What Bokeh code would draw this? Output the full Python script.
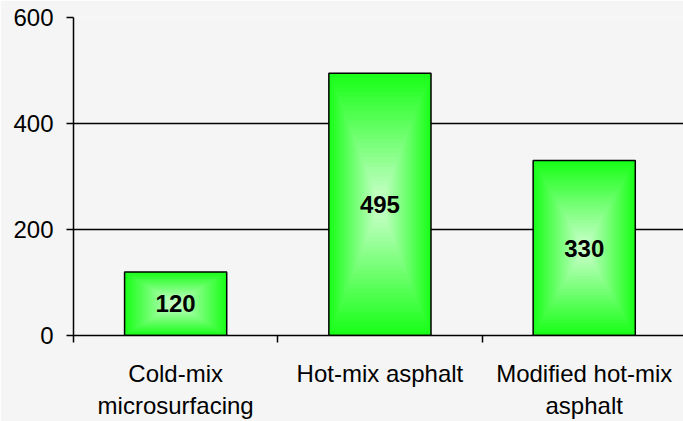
from bokeh.plotting import figure
from bokeh.models import Range1d, FixedTicker
from bokeh.core.properties import value
from bokeh.embed import file_html
from bokeh.resources import INLINE

categories = ["Cold-mix\nmicrosurfacing", "Hot-mix asphalt", "Modified hot-mix\nasphalt"]
values = [120, 495, 330]
y_ticks = [0, 200, 400, 600]

FONT = "Liberation Sans"
BG = "#f5f5f5"

n = len(categories)
centers = [i + 0.5 for i in range(n)]
bar_w = 0.5

p = figure(width=683, height=421, x_range=Range1d(0, 2.986), y_range=Range1d(0, 600),
           output_backend="svg", toolbar_location=None,
           min_border_left=73, min_border_right=0, min_border_top=17, min_border_bottom=85)
p.background_fill_color = BG
p.border_fill_color = BG
p.outline_line_color = None

# gradient fill made of nested similar rectangles (edge green -> light center)
edge = (25, 255, 25)
center = (210, 255, 210)
N = 28
for k in range(N):
    t = k / N
    col = "#%02x%02x%02x" % tuple(int(round(e + (c - e) * t)) for e, c in zip(edge, center))
    p.rect(x=centers, y=[v / 2 for v in values],
           width=[bar_w * (1 - t)] * n, height=[v * (1 - t) for v in values],
           fill_color=col, line_color=None)

p.vbar(x=centers, top=values, width=bar_w, fill_color=None, line_color="black", line_width=1.5)

p.text(x=centers, y=[v / 2 for v in values], text=[str(v) for v in values],
       text_font=value(FONT), text_font_style="bold", text_font_size="24px",
       text_align="center", text_baseline="middle", text_color="black")

# x axis
xa = p.xaxis[0]
xa.ticker = FixedTicker(ticks=centers, minor_ticks=[float(i) for i in range(n + 1)])
xa.major_label_overrides = {c: lab for c, lab in zip(centers, categories)}
xa.major_tick_out = 0
xa.major_tick_in = 0
xa.minor_tick_out = 7
xa.minor_tick_in = 0
xa.minor_tick_line_color = "black"
xa.minor_tick_line_width = 1.5
xa.axis_line_color = "black"
xa.axis_line_width = 1.5
xa.major_label_text_font = FONT
xa.major_label_text_font_size = "24px"
xa.major_label_text_color = "black"
xa.major_label_standoff = 17

# y axis
ya = p.yaxis[0]
ya.ticker = FixedTicker(ticks=y_ticks)
ya.major_tick_out = 7
ya.major_tick_in = 0
ya.major_tick_line_color = "black"
ya.major_tick_line_width = 1.5
ya.minor_tick_line_color = None
ya.axis_line_color = "black"
ya.axis_line_width = 1.5
ya.major_label_text_font = FONT
ya.major_label_text_font_size = "24px"
ya.major_label_text_color = "black"
ya.major_label_standoff = 13

p.xgrid.grid_line_color = None
p.ygrid.ticker = FixedTicker(ticks=y_ticks)
p.ygrid.grid_line_color = "black"
p.ygrid.grid_line_width = 1.5

open("out.html", "w").write(file_html(p, INLINE))
